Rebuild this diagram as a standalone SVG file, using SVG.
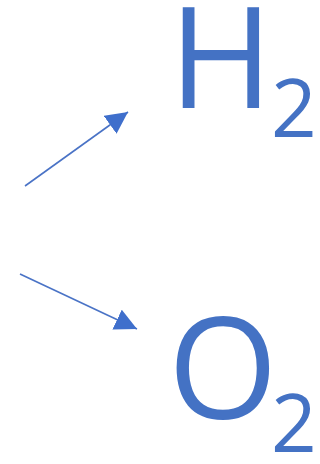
<svg xmlns="http://www.w3.org/2000/svg" width="320" height="464" viewBox="0 0 320 464">
<style>
.t{font-family:"Open Sans","Noto Sans",sans-serif;fill:#4472C4}
.big{font-size:141px}
.sub{font-size:80px}
.c{stroke:#4A73C6;stroke-width:1.6;fill:none}
</style>
<defs>
<marker id="ah" markerUnits="userSpaceOnUse" markerWidth="24" markerHeight="22" refX="22" refY="11" orient="auto">
<path d="M0,0 L22,11 L0,22 Z" fill="#3F6FCC"/>
</marker>
</defs>
<rect width="320" height="464" fill="#fff"/>
<g id="connectors">
<line class="c" x1="25" y1="186" x2="128" y2="112" marker-end="url(#ah)"/>
<line class="c" x1="20" y1="274" x2="137" y2="329" marker-end="url(#ah)"/>
</g>
<g id="h2"><text class="t big" x="169" y="108">H</text><text class="t sub" x="271" y="137">2</text></g>
<g id="o2"><text class="t big" x="168" y="419">O</text><text class="t sub" x="271" y="452">2</text></g>
</svg>
